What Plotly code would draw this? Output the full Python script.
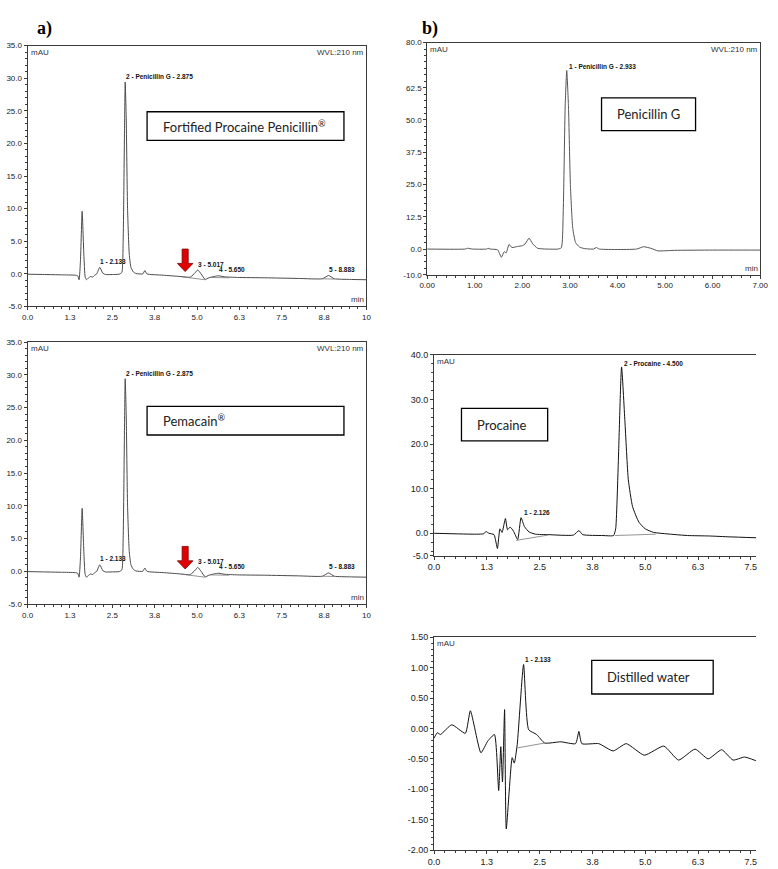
import plotly.graph_objects as go

W, H = 778, 869

# ---- data (time in min, signal in mAU) ----
# a) Fortified Procaine Penicillin / Pemacain (both traces look the same)
fpp_time = [0.0, 0.5, 1.0, 1.4, 1.48, 1.52, 1.56, 1.61, 1.66, 1.70, 1.74, 1.80, 1.86, 1.92,
            1.98, 2.04, 2.13, 2.22, 2.30, 2.5, 2.7, 2.78, 2.82, 2.86, 2.88, 2.91, 2.95, 3.0,
            3.05, 3.12, 3.2, 3.4, 3.46, 3.52, 4.0, 4.5, 4.8, 4.95, 5.02, 5.12, 5.24, 5.35,
            5.55, 5.65, 5.8, 6.2, 7.0, 8.0, 8.7, 8.88, 9.05, 9.5, 10.0]
fpp_mau = [-0.05, -0.1, -0.15, -0.2, -0.3, -0.9, 2.0, 9.6, 3.0, -0.5, -0.9, -0.6, -0.4, -0.5,
           -0.2, 0.0, 1.0, 0.1, -0.1, -0.1, -0.05, 0.2, 5.0, 22.0, 29.4, 24.0, 10.0, 3.0,
           1.0, 0.3, 0.05, 0.0, 0.5, 0.0, -0.2, -0.4, -0.5, 0.2, 0.6, 0.0, -0.85, -0.6,
           -0.35, -0.3, -0.45, -0.55, -0.6, -0.7, -0.75, -0.25, -0.75, -0.85, -0.9]
pem_time = list(fpp_time)
pem_mau = list(fpp_mau)
fpp_base_time = [4.55, 5.24, None, 5.4, 5.95, None, 8.7, 9.05]
fpp_base_mau = [-0.45, -0.9, None, -0.55, -0.6, None, -0.75, -0.8]
fpp_peaks = ["1 - 2.133", "2 - Penicillin G - 2.875", "3 - 5.017", "4 - 5.650", "5 - 8.883"]
fpp_peak_t = [2.12, 2.875, 5.0, 5.63, 8.87]
fpp_peak_y = [1.1, 29.4, 0.6, -0.1, -0.1]

# b) Penicillin G standard
pen_time = [0.0, 0.8, 0.85, 0.95, 1.25, 1.28, 1.32, 1.48, 1.56, 1.62, 1.66, 1.72, 1.78, 1.9,
            2.0, 2.06, 2.14, 2.22, 2.32, 2.5, 2.75, 2.82, 2.86, 2.9, 2.933, 2.97, 3.01, 3.06,
            3.12, 3.2, 3.3, 3.5, 3.55, 3.62, 4.4, 4.55, 4.7, 4.85, 5.2, 6.0, 7.0]
pen_mau = [0.0, 0.0, 0.3, 0.0, 0.0, 0.3, 0.0, -0.3, -3.2, -1.0, -1.5, 1.8, 0.6, 1.0,
           1.3, 2.0, 4.2, 2.0, 0.3, 0.0, 0.0, 0.5, 15.0, 55.0, 69.2, 55.0, 25.0, 8.0,
           2.5, 0.8, 0.2, 0.0, 0.6, 0.0, 0.0, 0.9, 0.3, -0.7, -0.5, -0.4, -0.4]

# b) Procaine standard
pro_time = [0.0, 1.0, 1.18, 1.23, 1.3, 1.42, 1.5, 1.56, 1.61, 1.69, 1.74, 1.8, 1.88, 1.98,
            2.06, 2.14, 2.25, 2.4, 2.7, 3.3, 3.43, 3.52, 4.0, 4.25, 4.3, 4.36, 4.44, 4.52,
            4.6, 4.7, 4.85, 5.0, 5.2, 5.6, 6.0, 6.5, 7.0, 7.63]
pro_mau = [0.0, -0.2, -0.1, 0.4, 0.0, -0.3, -3.4, 1.0, 0.2, 3.3, 0.8, 1.4, 0.5, -1.4,
           3.5, 1.5, 0.3, -0.2, -0.3, -0.4, 0.6, -0.3, -0.5, -0.5, 1.0, 15.0, 37.3, 25.0,
           12.0, 6.0, 2.5, 1.0, 0.2, -0.2, -0.5, -0.6, -0.8, -1.0]
pro_base_time = [1.94, 2.7, None, 4.28, 5.25]
pro_base_mau = [-1.6, -0.4, None, -0.5, -0.2]

# b) Distilled water blank
wat_time = [0.0, 0.08, 0.15, 0.42, 0.74, 0.86, 1.11, 1.27, 1.43, 1.53, 1.58, 1.62, 1.67, 1.71,
            1.85, 1.9, 1.97, 2.12, 2.24, 2.43, 2.62, 3.0, 3.35, 3.43, 3.5, 3.9, 4.24, 4.55,
            4.98, 5.44, 5.79, 6.18, 6.49, 6.81, 7.08, 7.35, 7.62]
wat_mau = [-0.16, -0.07, -0.1, 0.06, -0.08, 0.29, -0.40, -0.21, -0.1, -1.02, -0.3, -0.88, 0.31, -1.65,
           -0.48, -0.57, -0.26, 1.05, -0.02, -0.1, -0.24, -0.22, -0.25, -0.05, -0.25, -0.25, -0.37, -0.25,
           -0.44, -0.29, -0.52, -0.34, -0.5, -0.35, -0.52, -0.47, -0.53]
wat_base_time = [1.97, 2.62]
wat_base_mau = [-0.32, -0.24]

# tick labels
a_xticks = [0, 1.25, 2.5, 3.75, 5, 6.25, 7.5, 8.75, 10]
a_xtext = ["0.0", "1.3", "2.5", "3.8", "5.0", "6.3", "7.5", "8.8", "10"]
b_xticks = [0, 1.25, 2.5, 3.75, 5, 6.25, 7.5]
b_xtext = ["0.0", "1.3", "2.5", "3.8", "5.0", "6.3", "7.5"]


# helpers: page pixel -> paper fraction
def fx(p):
    return p / W


def fy(p):
    return 1 - p / H


def dom_x(a, b):
    return [fx(a), fx(b)]


def dom_y(top, bottom):
    return [fy(bottom), fy(top)]


fig = go.Figure()
AX = "#3a3a3a"
TICKFONT = dict(family="Liberation Sans", size=8, color="#222")

panels = [
    # key, x dom, y dom, xrange, yrange, xticks, xtext, yticks, ytext, minor x, minor y, mirror y
    ("", dom_x(20, 366), dom_y(41, 305), [0, 10], [-5, 35], a_xticks, a_xtext,
     [-5, 0, 5, 10, 15, 20, 25, 30, 35], ["-5.0", "0.0", "5.0", "10.0", "15.0", "20.0", "25.0", "30.0", "35.0"],
     0.25, 1, True),
    ("2", dom_x(20, 366), dom_y(341, 606), [0, 10], [-5, 35], a_xticks, a_xtext,
     [-5, 0, 5, 10, 15, 20, 25, 30, 35], ["-5.0", "0.0", "5.0", "10.0", "15.0", "20.0", "25.0", "30.0", "35.0"],
     0.25, 1, True),
    ("3", dom_x(428, 768), dom_y(38, 273), [0, 7], [-10, 80], [0, 1, 2, 3, 4, 5, 6, 7],
     ["0.00", "1.00", "2.00", "3.00", "4.00", "5.00", "6.00", "7.00"],
     [-10, 0, 12.5, 25, 37.5, 50, 62.5, 80], ["-10.0", "0.0", "12.5", "25.0", "37.5", "50.0", "62.5", "80.0"],
     0.2, 2.5, True),
    ("4", dom_x(435, 764), dom_y(354, 557), [0, 7.63], [-5, 40], b_xticks, b_xtext,
     [-5, 0, 10, 20, 30, 40], ["-5.0", "0.0", "10.0", "20.0", "30.0", "40.0"],
     0.25, 2, False),
    ("5", dom_x(435, 764), dom_y(639.5, 855), [0, 7.63], [-2, 1.5], b_xticks, b_xtext,
     [-2, -1.5, -1, -0.5, 0, 0.5, 1, 1.5], ["-2.00", "-1.50", "-1.00", "-0.50", "0.00", "0.50", "1.00", "1.50"],
     0.25, 0.1, False),
]

layout_axes = {}
for key, xd, yd, xr, yr, xt, xtt, yt, ytt, mx, my, mirror_y in panels:
    big = key in ("4", "5")
    tf = dict(TICKFONT, size=9) if big else TICKFONT
    layout_axes["xaxis" + key] = dict(
        domain=xd, range=xr, anchor="y" + key, tickmode="array", tickvals=xt, ticktext=xtt,
        showgrid=False, zeroline=False, showline=True, linecolor=AX, linewidth=1, mirror=True,
        ticks="outside", ticklen=3, tickcolor=AX, tickfont=tf,
        minor=dict(tickmode="linear", tick0=0, dtick=mx, ticks="outside", ticklen=2, tickcolor=AX),
    )
    layout_axes["yaxis" + key] = dict(
        domain=yd, range=yr, anchor="x" + key, tickmode="array", tickvals=yt, ticktext=ytt,
        showgrid=False, zeroline=False, showline=True, linecolor=AX, linewidth=1,
        mirror=mirror_y, ticks="outside", ticklen=3, tickcolor=AX, tickfont=tf,
        minor=dict(tickmode="linear", tick0=0, dtick=my, ticks="outside", ticklen=2, tickcolor=AX),
    )

series = [
    ("", fpp_time, fpp_mau, "#4a4a4a"),
    ("2", pem_time, pem_mau, "#4a4a4a"),
    ("3", pen_time, pen_mau, "#555"),
    ("4", pro_time, pro_mau, "#111"),
    ("5", wat_time, wat_mau, "#111"),
]
for key, t, v, c in series:
    fig.add_trace(go.Scatter(x=t, y=v, mode="lines", xaxis="x" + key, yaxis="y" + key,
                             line=dict(color=c, width=1, shape="spline", smoothing=0.5),
                             showlegend=False, hoverinfo="skip"))

# integration baselines
for key, t, v in [("", fpp_base_time, fpp_base_mau), ("2", fpp_base_time, fpp_base_mau),
                  ("4", pro_base_time, pro_base_mau), ("5", wat_base_time, wat_base_mau)]:
    fig.add_trace(go.Scatter(x=t, y=v, mode="lines", xaxis="x" + key, yaxis="y" + key,
                             line=dict(color="#777", width=0.8), showlegend=False, hoverinfo="skip"))

annotations = []
PEAKFONT = dict(family="Liberation Sans", size=6.5, color="#111")

# peak labels
for key in ("", "2"):
    for lbl, t, y in zip(fpp_peaks, fpp_peak_t, fpp_peak_y):
        annotations.append(dict(x=t, y=y, xref="x" + key, yref="y" + key, text="<b>" + lbl + "</b>",
                                showarrow=False, xanchor="left", yanchor="bottom", font=PEAKFONT,
                                xshift=-1))
annotations.append(dict(x=2.94, y=69.2, xref="x3", yref="y3", text="<b>1 - Penicillin G - 2.933</b>",
                        showarrow=False, xanchor="left", yanchor="bottom", font=PEAKFONT, yshift=-2))
annotations.append(dict(x=4.44, y=37.3, xref="x4", yref="y4", text="<b>2 - Procaine - 4.500</b>",
                        showarrow=False, xanchor="left", yanchor="bottom", font=PEAKFONT, yshift=-2))
annotations.append(dict(x=2.08, y=3.5, xref="x4", yref="y4", text="<b>1 - 2.126</b>",
                        showarrow=False, xanchor="left", yanchor="bottom", font=PEAKFONT))
annotations.append(dict(x=2.1, y=1.05, xref="x5", yref="y5", text="<b>1 - 2.133</b>",
                        showarrow=False, xanchor="left", yanchor="bottom", font=PEAKFONT))

# mAU / WVL / min corner texts
SMALL = dict(family="Liberation Sans", size=8, color="#333")
for key, wvl, mn in [("", True, True), ("2", True, True), ("3", True, True), ("4", False, False),
                     ("5", False, False)]:
    annotations.append(dict(x=0.003, y=1, xref=f"x{key} domain", yref=f"y{key} domain", text="mAU",
                            showarrow=False, xanchor="left", yanchor="top", font=SMALL))
    if wvl:
        annotations.append(dict(x=1, y=1, xref=f"x{key} domain", yref=f"y{key} domain", text="WVL:210 nm",
                                showarrow=False, xanchor="right", yanchor="top", font=SMALL))
    if mn:
        annotations.append(dict(x=1, y=0, xref=f"x{key} domain", yref=f"y{key} domain", text="min",
                                showarrow=False, xanchor="right", yanchor="bottom", font=SMALL))

# panel letters
for lbl, xp in [("a)", 28), ("b)", 431)]:
    annotations.append(dict(x=fx(xp), y=fy(11), xref="paper", yref="paper", text="<b>" + lbl + "</b>",
                            showarrow=False, font=dict(family="Liberation Serif", size=18, color="#000")))

# sample name boxes (page pixel boxes)
BOXFONT = dict(family="Lato", size=13, color="#222")
shapes = []
boxes = [
    ("Fortified Procaine Penicillin<sup>®</sup>", 142, 108, 343, 137),
    ("Pemacain<sup>®</sup>", 142, 406, 343, 435),
    ("Penicillin G", 606, 94, 702, 127),
    ("Procaine", 463, 408, 551, 441),
    ("Distilled water", 596, 663, 720, 697),
]
for txt, x0, y0, x1, y1 in boxes:
    shapes.append(dict(type="rect", xref="paper", yref="paper", x0=fx(x0), x1=fx(x1),
                       y0=fy(y1), y1=fy(y0), line=dict(color="#000", width=1.3),
                       fillcolor="white", layer="above"))
    annotations.append(dict(x=fx(x0 + 14), y=fy((y0 + y1) / 2), xref="paper", yref="paper",
                            text=txt, showarrow=False, xanchor="left", yanchor="middle", font=BOXFONT))

# red arrows marking the procaine-related peak in panel a)
for key in ("", "2"):
    path = ("M 4.56 3.8 L 4.74 3.8 L 4.74 1.6 L 4.88 1.6 L 4.65 0.35 "
            "L 4.42 1.6 L 4.56 1.6 Z")
    shapes.append(dict(type="path", path=path, xref="x" + key, yref="y" + key, fillcolor="#e00000",
                       line=dict(color="#7a0000", width=0.8), layer="above"))

fig.update_layout(
    width=W, height=H, margin=dict(l=0, r=0, t=0, b=0),
    paper_bgcolor="white", plot_bgcolor="white",
    annotations=annotations, shapes=shapes, showlegend=False,
    **layout_axes,
)

# drop the default body margin so figure pixels line up with the page
fig.write_html("out.html", config={"displayModeBar": False},
               post_script="document.body.style.margin='0';document.body.style.padding='0';"
                           "document.documentElement.style.overflow='hidden';")
